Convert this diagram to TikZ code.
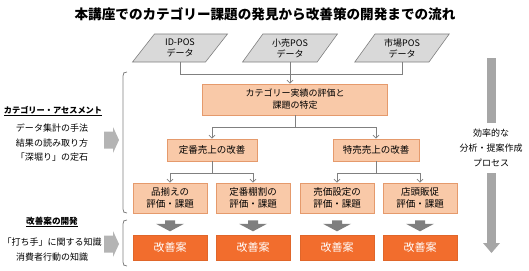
\documentclass[tikz,border=0pt]{standalone}
\usepackage{fontspec}
\setmainfont{Noto Sans CJK JP}
\usetikzlibrary{shapes.geometric,calc,arrows.meta}
\definecolor{lfill}{HTML}{F9C9A8}
\definecolor{lborder}{HTML}{E59A6C}
\definecolor{dfill}{HTML}{F26D2D}
\definecolor{dborder}{HTML}{E0662A}
\definecolor{pfill}{HTML}{D9D9D9}
\definecolor{pborder}{HTML}{7F7F7F}
\definecolor{linegray}{HTML}{808080}
\definecolor{blockgray}{HTML}{7F7F7F}
\definecolor{biggray}{HTML}{A6A6A6}
\definecolor{leftgray}{HTML}{B4B4B4}
\tikzset{
  conn/.style={draw=linegray, line width=0.8pt},
  arr/.style={conn, -{Straight Barb[length=3pt,width=6pt]}},
  lbox/.style={draw=lborder, fill=lfill, line width=0.6pt, align=center, inner sep=0pt,
    font=\fontsize{9.5}{12}\selectfont},
  dbox/.style={draw=dborder, fill=dfill, line width=0.6pt, text=white, inner sep=0pt,
    minimum width=74pt, minimum height=25pt, font=\fontsize{11}{13}\selectfont},
  para/.style={trapezium, trapezium left angle=55, trapezium right angle=125,
    trapezium stretches=true, minimum width=95pt, minimum height=28pt, inner sep=0pt,
    draw=pborder, fill=pfill, line width=0.6pt, align=center, font=\fontsize{9}{11}\selectfont},
  txt/.style={align=center, inner sep=0pt, font=\fontsize{9}{14.5}\selectfont},
  hdr/.style={inner sep=0pt, font=\fontsize{8.2}{10}\selectfont\bfseries},
  bracket/.style={draw=linegray, line width=0.8pt}
}
\newcommand\dnarrowat[1]{\fill[blockgray] (#1) ++(-5,0) -- ++(10,0) -- ++(0,3.5) -- ++(9,0) -- ++(-14,7.5) -- ++(-14,-7.5) -- ++(9,0) -- cycle;}
\newcommand\rtarrowat[1]{\fill[leftgray] (#1) ++(0,-8.5) -- ++(9,0) -- ++(0,-4.5) -- ++(6,13) -- ++(-6,13) -- ++(0,-4.5) -- ++(-9,0) -- cycle;}
\begin{document}
\begin{tikzpicture}[x=1pt,y=-1pt]
\useasboundingbox (0,0) rectangle (529,270);
% title
\node[inner sep=0pt, font=\fontsize{13.6}{16}\selectfont\bfseries] (title) at (265,14) {本講座でのカテゴリー課題の発見から改善策の開発までの流れ};
% data
\node[para] (p1) at (180,48) {ID-POS\\データ};
\node[para] (p2) at (290,48) {小売POS\\データ};
\node[para] (p3) at (402,48) {市場POS\\データ};
% main
\node[lbox, minimum width=185pt, minimum height=31pt, font=\fontsize{9}{12}\selectfont] (main) at (295,99.5) {カテゴリー実績の評価と\\課題の特定};
\coordinate (j0) at (290,74);
\draw[conn] (p1.south) |- (j0);
\draw[conn] (p3.south) |- (j0);
\draw[arr] (p2.south) -- (p2.south |- main.north);
% level 2
\node[lbox, minimum width=90pt, minimum height=22pt] (b1) at (212,150) {定番売上の改善};
\node[lbox, minimum width=86pt, minimum height=22pt] (b2) at (376,150) {特売売上の改善};
\coordinate (j1) at (295,127);
\draw[conn] (main.south) -- (j1);
\draw[arr] (j1) -| (b1.north);
\draw[arr] (j1) -| (b2.north);
% level 3
\node[lbox, minimum width=74pt, minimum height=30pt] (c1) at (170,198) {品揃えの\\評価・課題};
\node[lbox, minimum width=74pt, minimum height=30pt] (c2) at (253,198) {定番棚割の\\評価・課題};
\node[lbox, minimum width=74pt, minimum height=30pt] (c3) at (337,198) {売価設定の\\評価・課題};
\node[lbox, minimum width=74pt, minimum height=30pt] (c4) at (420,198) {店頭販促\\評価・課題};
\coordinate (j2) at (212,173);
\coordinate (j3) at (376,173);
\draw[conn] (b1.south) -- (b1.south |- j2);
\draw[arr] (b1.south |- j2) -| (c1.north);
\draw[arr] (b1.south |- j2) -| (c2.north);
\draw[conn] (b2.south) -- (b2.south |- j3);
\draw[arr] (b2.south |- j3) -| (c3.north);
\draw[arr] (b2.south |- j3) -| (c4.north);
% improvement boxes
\node[dbox] (d1) at (170,247.5) {改善案};
\node[dbox] (d2) at (253,247.5) {改善案};
\node[dbox] (d3) at (337,247.5) {改善案};
\node[dbox] (d4) at (420,247.5) {改善案};
\dnarrowat{$(c1.south)+(0,7)$}
\dnarrowat{$(c2.south)+(0,7)$}
\dnarrowat{$(c3.south)+(0,7)$}
\dnarrowat{$(c4.south)+(0,7)$}
% brackets
\draw[bracket] (127,72) .. controls (124,72) and (123,73) .. (123,76) -- (123,209) .. controls (123,212) and (124,213) .. (127,213);
\draw[bracket] (127,220) .. controls (124,220) and (123,221) .. (123,224) -- (123,262) .. controls (123,265) and (124,266) .. (127,266);
% left labels
\node[hdr] (h1) at (53,111) {\underline{カテゴリー・アセスメント}};
\node[txt] (t1) at (52,143) {データ集計の手法\\結果の読み取り方\\「深堀り」の定石};
\node[hdr, font=\fontsize{8.6}{10}\selectfont\bfseries] (h2) at (52,222) {\underline{改善案の開発}};
\node[txt] (t2) at (52,249.5) {「打ち手」に関する知識\\消費者行動の知識};
\rtarrowat{104,140}
\rtarrowat{104,244}
% right process arrow
\fill[biggray] (487,58) rectangle (496,123);
\fill[biggray] (487,173) rectangle (496,243);
\fill[biggray] (483,243) -- (500,243) -- (491.5,253) -- cycle;
\node[txt, font=\fontsize{9}{15}\selectfont] (rt) at (491,148) {効率的な\\分析・提案作成\\プロセス};
\end{tikzpicture}
\end{document}
